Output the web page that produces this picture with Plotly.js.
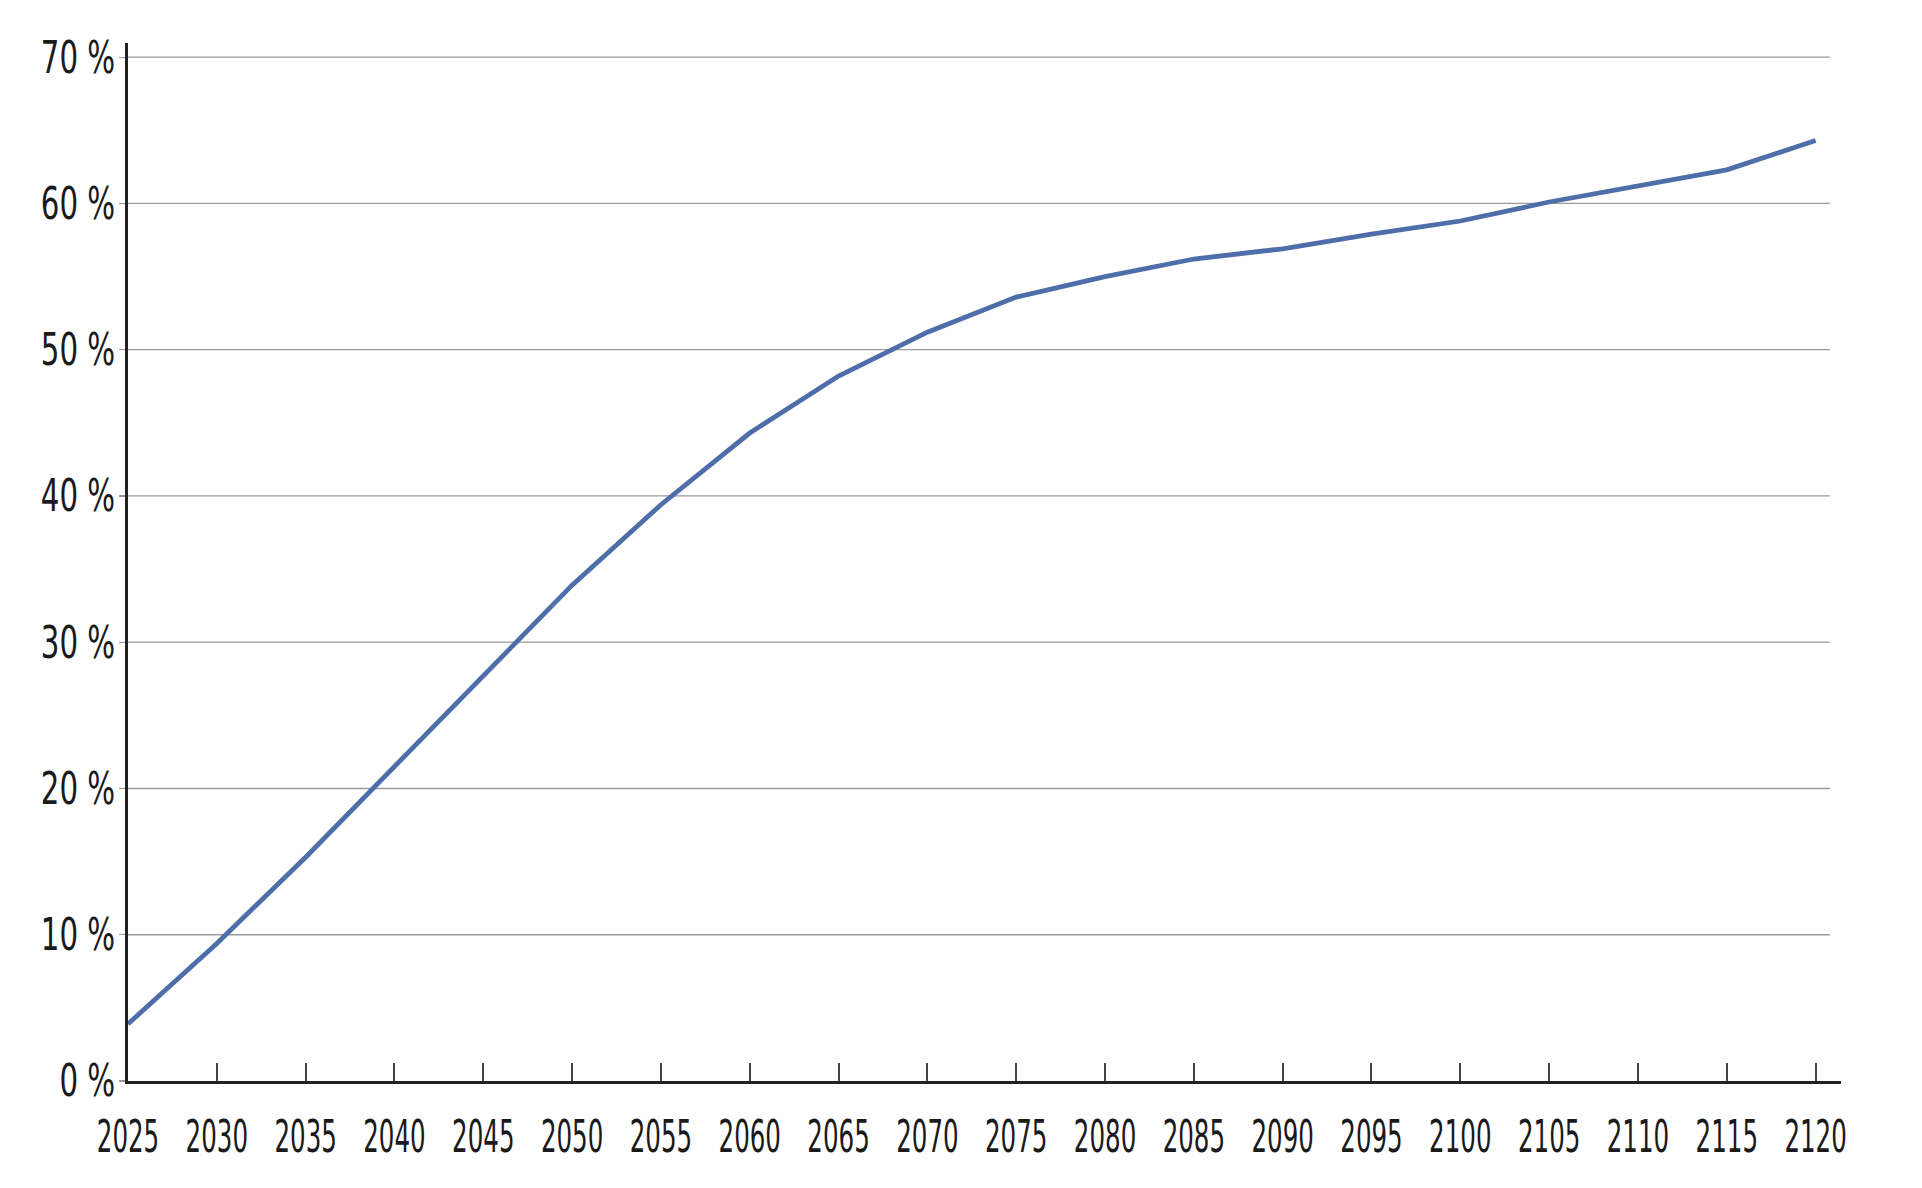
<!DOCTYPE html>
<html>
<head>
<meta charset="utf-8">
<script src="https://cdn.plot.ly/plotly-3.0.1.min.js"></script>
<style>
  html, body { margin: 0; padding: 0; background: #ffffff; }
  #chart { width: 1922px; height: 1188px; }
</style>
</head>
<body>
<div id="chart"></div>
<script>
// Data
const years = [2025, 2030, 2035, 2040, 2045, 2050, 2055, 2060, 2065, 2070,
               2075, 2080, 2085, 2090, 2095, 2100, 2105, 2110, 2115, 2120];
const shareValues = [3.9, 9.4, 15.3, 21.5, 27.8, 33.9, 39.4, 44.3, 48.2, 51.2,
                     53.6, 55.0, 56.2, 56.9, 57.9, 58.8, 60.1, 61.2, 62.3, 64.3];

const xTickVals = [2025, 2030, 2035, 2040, 2045, 2050, 2055, 2060, 2065, 2070,
                   2075, 2080, 2085, 2090, 2095, 2100, 2105, 2110, 2115, 2120];
const xTickText = xTickVals.map(String);
const yTickVals = [0, 10, 20, 30, 40, 50, 60, 70];
const yTickText = ['0 %', '10 %', '20 %', '30 %', '40 %', '50 %', '60 %', '70 %'];
const gridVals = [10, 20, 30, 40, 50, 60, 70];

const FONT = '"DejaVu Sans Condensed", "DejaVu Sans", sans-serif';
const TEXT = '#1a1a1a';

const trace = {
  x: years,
  y: shareValues,
  type: 'scatter',
  mode: 'lines',
  line: { color: '#4e6ea9', width: 4.8, shape: 'linear' },
  hoverinfo: 'skip'
};

const shapes = gridVals.map(v => ({
  type: 'line', xref: 'x', yref: 'y',
  x0: 2025, x1: 2120.8, y0: v, y1: v,
  line: { color: '#9a9a9a', width: 1.3 },
  layer: 'below'
}));

const layout = {
  width: 1922,
  height: 1188,
  margin: { l: 128, r: 81, t: 43, b: 107, autoexpand: false },
  paper_bgcolor: '#ffffff',
  plot_bgcolor: '#ffffff',
  showlegend: false,
  font: { family: FONT, color: TEXT, size: 44 },
  xaxis: {
    range: [2025, 2121.43],
    tickmode: 'array',
    tickvals: xTickVals,
    ticktext: xTickText,
    tickangle: 0,
    ticks: 'inside',
    ticklen: 18,
    tickwidth: 2,
    tickcolor: '#444444',
    showgrid: false,
    zeroline: false,
    showline: true,
    linecolor: '#222222',
    linewidth: 3,
    ticklabelstandoff: 15,
    tickfont: { family: FONT, size: 44, color: TEXT }
  },
  yaxis: {
    range: [0, 70.97],
    tickmode: 'array',
    tickvals: yTickVals,
    ticktext: yTickText,
    tickangle: 0,
    ticks: 'outside',
    ticklen: 6,
    tickwidth: 1.3,
    tickcolor: '#9a9a9a',
    showgrid: false,
    zeroline: false,
    showline: true,
    linecolor: '#222222',
    linewidth: 3,
    ticklabelstandoff: 0,
    tickfont: { family: FONT, size: 44, color: TEXT }
  },
  shapes: shapes
};

function squeeze(sel, s, dx) {
  document.querySelectorAll(sel).forEach(t => {
    const x = parseFloat(t.getAttribute('x')) || 0;
    const tr = t.getAttribute('transform') || '';
    t.setAttribute('transform', tr + ' translate(' + (x + dx) + ',0) scale(' + s + ',1) translate(' + (-x) + ',0)');
  });
}

Plotly.newPlot('chart', [trace], layout, { staticPlot: true, displayModeBar: false })
  .then(() => {
    squeeze('.xtick text', 0.62, 0);
    squeeze('.ytick text', 0.74, 5);
  });
</script>
</body>
</html>
